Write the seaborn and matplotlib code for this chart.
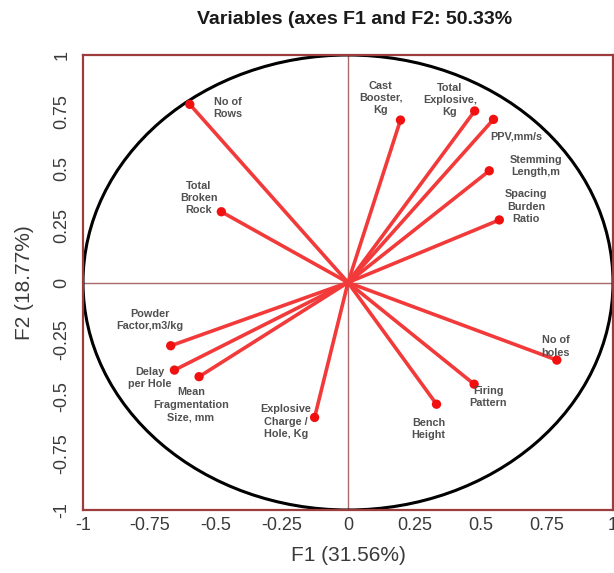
import numpy as np
import pandas as pd
import seaborn as sns
import matplotlib
matplotlib.use("Agg")
import matplotlib.pyplot as plt
from matplotlib.patches import Circle

# PCA loadings
variables = ["No of\nRows", "Total\nBroken\nRock", "Cast\nBooster,\nKg", "Total\nExplosive,\nKg",
             "PPV,mm/s", "Stemming\nLength,m", "Spacing\nBurden\nRatio", "Powder\nFactor,m3/kg",
             "Delay\nper Hole", "Mean\nFragmentation\nSize, mm", "Explosive\nCharge /\nHole, Kg",
             "Bench\nHeight", "Firing\nPattern", "No of\nholes"]
f1 = [-0.597, -0.478, 0.198, 0.478, 0.549, 0.533, 0.571, -0.669, -0.655, -0.562, -0.126, 0.334, 0.476, 0.788]
f2 = [0.783, 0.311, 0.714, 0.754, 0.717, 0.491, 0.275, -0.278, -0.385, -0.414, -0.593, -0.535, -0.447, -0.341]

# where each label sits (data coords)
label_x = [-0.454, -0.563, 0.123, 0.385, 0.634, 0.710, 0.671, -0.748, -0.748, -0.593, -0.235, 0.304, 0.530, 0.784]
label_y = [0.767, 0.371, 0.811, 0.802, 0.641, 0.512, 0.333, -0.165, -0.420, -0.538, -0.612, -0.644, -0.502, -0.282]

ticks = [-1, -0.75, -0.5, -0.25, 0, 0.25, 0.5, 0.75, 1]

df = pd.DataFrame({"var": variables, "F1": f1, "F2": f2})

sns.set_style("white")
plt.rcParams["font.family"] = ["Liberation Sans", "DejaVu Sans"]

fig = plt.figure(figsize=(6.14, 5.73), dpi=100)
ax = fig.add_axes([83 / 614, 63 / 573, 530 / 614, 455 / 573])

# zero lines
ax.axhline(0, color="#a86a6a", lw=1, zorder=1)
ax.axvline(0, color="#a86a6a", lw=1, zorder=1)

# unit circle (stretched since aspect isn't equal)
ax.add_patch(Circle((0, 0), 1, fill=False, edgecolor="black", lw=2.2, zorder=2))

for x, y in zip(df["F1"], df["F2"]):
    ax.plot([0, x], [0, y], color="#f23a3a", lw=2.6, zorder=3, solid_capstyle="round")

sns.scatterplot(data=df, x="F1", y="F2", color="#f01010", s=45, edgecolor="none", zorder=4, ax=ax)

for name, lx, ly in zip(variables, label_x, label_y):
    ax.text(lx, ly, name, ha="center", va="center", fontsize=7.8, fontweight="bold",
            color="#505050", linespacing=1.3, zorder=5)

ax.set_xlim(-1, 1)
ax.set_ylim(-1, 1)
ax.set_xticks(ticks)
ax.set_yticks(ticks)
lbls = ["-1", "-0.75", "-0.5", "-0.25", "0", "0.25", "0.5", "0.75", "1"]
ax.set_xticklabels(lbls)
ax.set_yticklabels(lbls, rotation=90, va="center")
ax.tick_params(axis="both", length=0, labelsize=13, labelcolor="#3a3a3a", pad=5)
ax.tick_params(axis="y", pad=9)

for s in ax.spines.values():
    s.set_color("#9c3c3c")
    s.set_linewidth(1.6)

ax.set_xlabel("F1 (31.56%)", fontsize=15, color="#3a3a3a", labelpad=9)
ax.set_ylabel("F2 (18.77%)", fontsize=15, color="#3a3a3a", labelpad=14)
fig.text(355 / 614, 1 - 19 / 573, "Variables (axes F1 and F2: 50.33%", ha="center", va="center",
         fontsize=14, fontweight="bold", color="#1a1a1a")

fig.savefig("out.png", dpi=100)
